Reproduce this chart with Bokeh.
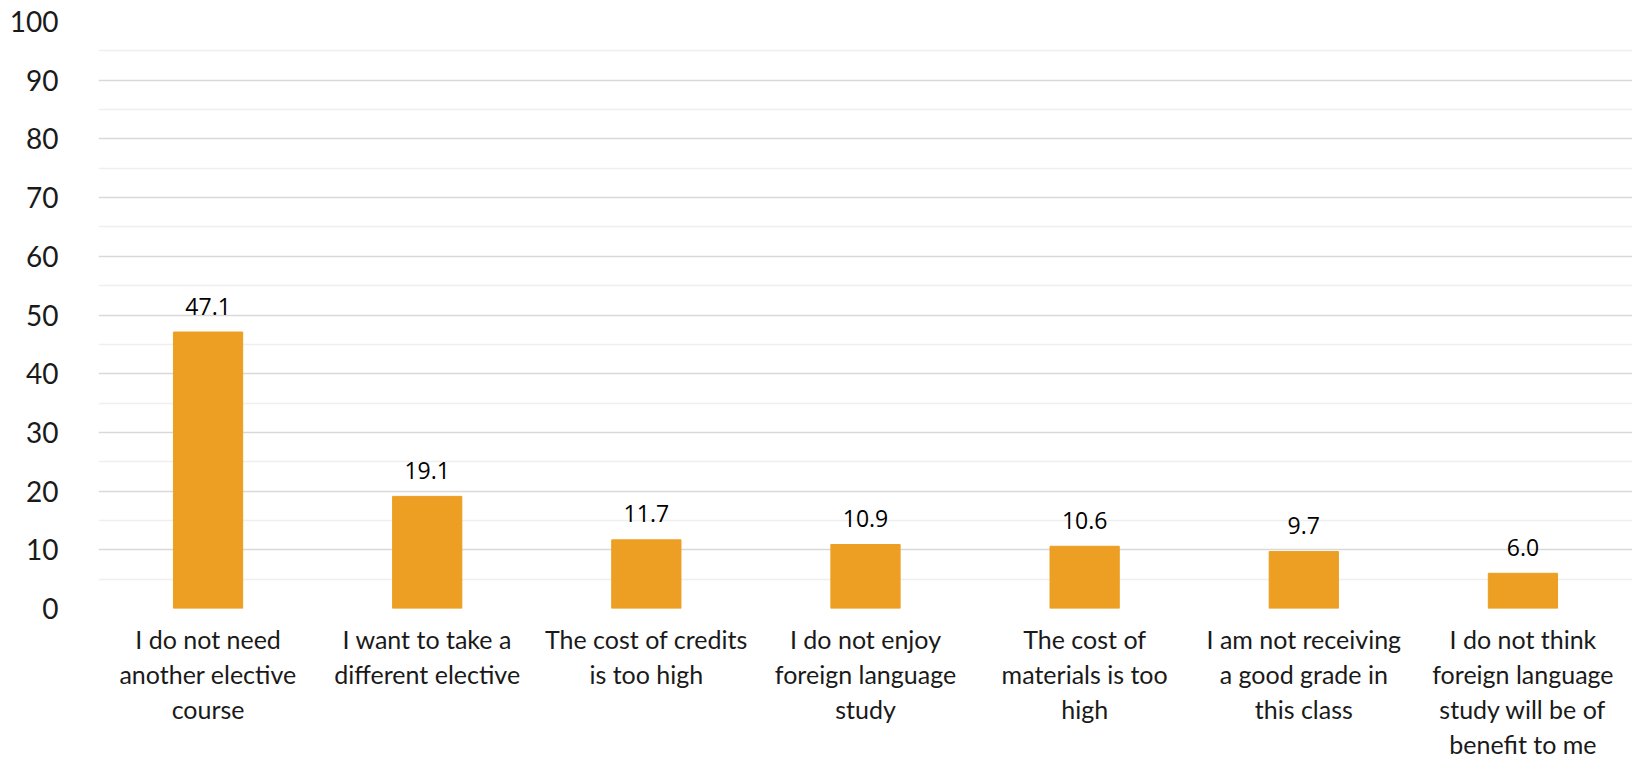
from bokeh.plotting import figure
from bokeh.models import FixedTicker, ColumnDataSource
from bokeh.core.properties import value
from bokeh.embed import file_html
from bokeh.resources import INLINE

categories = [
    "I do not need another elective course",
    "I want to take a different elective",
    "The cost of credits is too high",
    "I do not enjoy foreign language study",
    "The cost of materials is too high",
    "I am not receiving a good grade in this class",
    "I do not think foreign language study will be of benefit to me",
]
tick_labels = [
    "I do not need\nanother elective\ncourse",
    "I want to take a\ndifferent elective",
    "The cost of credits\nis too high",
    "I do not enjoy\nforeign language\nstudy",
    "The cost of\nmaterials is too\nhigh",
    "I am not receiving\na good grade in\nthis class",
    "I do not think\nforeign language\nstudy will be of\nbenefit to me",
]
values = [47.1, 19.1, 11.7, 10.9, 10.6, 9.7, 6.0]
y_ticks = list(range(0, 101, 10))
y_minor = list(range(5, 100, 10))

xs = [i + 0.5 for i in range(len(categories))]
src = ColumnDataSource(dict(
    x=xs, top=values, lab=[f"{v:.1f}" for v in values], cat=categories))

p = figure(width=1632, height=761, x_range=(0, len(categories)), y_range=(0, 100),
           output_backend="svg", toolbar_location=None,
           min_border_left=98, min_border_right=0, min_border_top=21, min_border_bottom=10)
p.outline_line_color = None
p.background_fill_color = "white"
p.border_fill_color = "white"

p.vbar(x="x", top="top", width=0.316, bottom=0, source=src,
       fill_color="#EC9F22", line_color="#EC9F22")

p.text(x="x", y="top", text="lab", source=src, text_align="center",
       text_baseline="alphabetic", y_offset=-26, text_font_size="23px",
       text_font=value("Open Sans"), text_color="#000000")

# y axis
p.yaxis.ticker = FixedTicker(ticks=y_ticks, minor_ticks=y_minor)
p.yaxis.axis_line_color = None
p.yaxis.major_tick_line_color = None
p.yaxis.minor_tick_line_color = None
p.yaxis.major_label_text_font = "Lato"
p.yaxis.major_label_text_font_size = "28px"
p.yaxis.major_label_text_color = "#1a1a1a"
p.yaxis.major_label_standoff = 34

p.ygrid.grid_line_color = "#D9D9D9"
p.ygrid.grid_line_width = 1.5
p.ygrid.minor_grid_line_color = "#EFEFEF"
p.ygrid.minor_grid_line_width = 1.5
p.xgrid.grid_line_color = None

# x axis
p.xaxis.ticker = FixedTicker(ticks=xs)
p.xaxis.major_label_overrides = {x: t for x, t in zip(xs, tick_labels)}
p.xaxis.axis_line_color = None
p.xaxis.major_tick_line_color = None
p.xaxis.minor_tick_line_color = None
p.xaxis.major_label_text_font = "Lato"
p.xaxis.major_label_text_font_size = "25px"
p.xaxis.major_label_text_color = "#1a1a1a"
p.xaxis.major_label_text_line_height = 1.17
p.xaxis.major_label_standoff = 9

open("out.html", "w").write(file_html(p, INLINE))
